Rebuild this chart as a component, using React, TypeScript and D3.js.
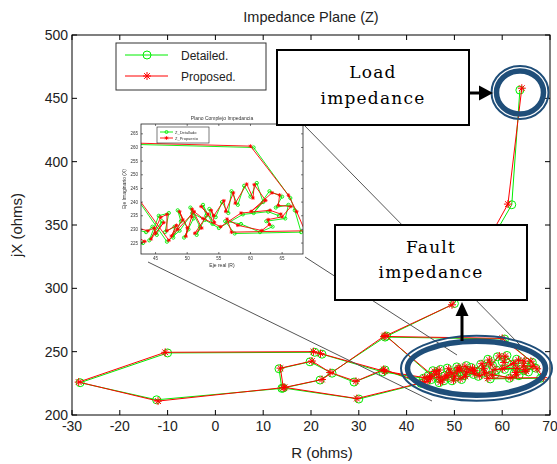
import * as React from 'react';
import * as d3 from 'd3';

// axis ticks
const xTicks = [-30, -20, -10, 0, 10, 20, 30, 40, 50, 60, 70];
const yTicks = [200, 250, 300, 350, 400, 450, 500];
const insetXTicks = [45, 50, 55, 60, 65];
const insetYTicks = [225, 230, 235, 240, 245, 250, 255, 260, 265];

const legendLabels = ['Detailed.', 'Proposed.'];
const insetLegendLabels = ['Z_Detallado', 'Z_Propuesto'];

// R, jX (ohms)
const detailed: [number, number][] = [
  [63.7, 456.5], [62.0, 366.0], [50.0, 288.0], [35.5, 261.5], [60.5, 260.0],
  [66.3, 241.5], [67.0, 237.0], [68.0, 229.0], [57.5, 228.5], [56.0, 233.0],
  [58.5, 232.0], [61.5, 229.0], [63.5, 231.0], [62.5, 233.0], [65.5, 234.0],
  [66.0, 239.0], [64.0, 238.0], [65.0, 242.0], [63.0, 244.0], [60.5, 236.0],
  [62.0, 240.0], [61.0, 247.0], [60.0, 242.0], [59.0, 246.0], [58.0, 239.0],
  [57.0, 244.0], [56.5, 236.0], [55.5, 240.0], [54.5, 234.5], [53.5, 237.5],
  [54.0, 232.0], [52.5, 239.0], [53.0, 235.0], [51.5, 228.0], [52.0, 231.0],
  [50.5, 238.0], [51.0, 234.0], [49.5, 227.0], [50.2, 230.0], [48.5, 237.0],
  [49.0, 233.0], [47.8, 227.0], [48.0, 231.0], [46.5, 229.0], [47.1, 236.0],
  [45.5, 235.0], [44.0, 226.0], [46.0, 233.0], [45.2, 228.0], [44.5, 231.0],
  [43.5, 229.0], [35.0, 234.0], [22.3, 248.0], [20.8, 249.5], [-10.0, 249.0],
  [-28.3, 225.5], [-12.3, 212.0], [13.9, 221.0], [13.3, 236.5], [19.8, 242.0],
  [24.4, 233.0], [29.0, 226.0], [35.5, 235.5], [43.0, 225.0], [30.0, 212.6],
  [14.2, 221.3], [21.9, 227.6], [35.8, 262.3], [46.8, 225.5], [48.8, 229.5],
  [50.8, 236.0], [52.8, 233.5], [55.0, 230.5], [58.8, 235.5], [62.8, 236.5],
  [64.5, 235.0],
];

const proposed: [number, number][] = [
  [64.1, 458.0], [61.2, 366.5], [49.5, 287.0], [35.3, 262.0], [60.0, 260.5],
  [66.0, 242.5], [67.3, 236.5], [68.6, 229.5], [57.0, 229.0], [56.3, 233.8],
  [58.0, 231.5], [61.8, 229.6], [63.0, 231.8], [62.8, 233.6], [65.0, 234.6],
  [66.4, 238.4], [64.4, 238.8], [64.6, 242.6], [63.4, 243.4], [60.1, 236.6],
  [62.4, 240.6], [60.6, 246.4], [60.4, 241.5], [59.4, 246.6], [57.6, 239.6],
  [57.3, 243.4], [56.1, 236.6], [55.8, 240.5], [54.2, 235.0], [53.8, 237.0],
  [54.3, 232.6], [52.2, 238.4], [53.3, 235.6], [51.2, 228.6], [52.3, 230.5],
  [50.8, 237.4], [50.7, 234.6], [49.8, 227.5], [50.0, 230.6], [48.8, 236.5],
  [49.3, 233.5], [47.5, 227.6], [48.3, 231.5], [46.8, 229.5], [46.8, 235.5],
  [45.8, 234.4], [44.3, 226.5], [46.3, 232.5], [45.0, 228.6], [44.8, 230.5],
  [43.8, 229.5], [35.4, 234.5], [22.0, 248.5], [20.5, 250.0], [-10.5, 249.5],
  [-28.6, 226.0], [-12.0, 211.0], [14.2, 221.6], [13.6, 237.0], [20.2, 242.6],
  [24.0, 233.6], [29.4, 226.6], [35.2, 236.0], [43.3, 225.6], [29.6, 213.0],
  [14.5, 221.8], [22.3, 228.0], [35.5, 262.8], [47.1, 226.0], [48.5, 230.0],
  [51.1, 236.5], [52.5, 234.0], [55.3, 231.0], [58.5, 236.0], [63.1, 237.0],
  [64.8, 235.6],
];

const GREEN = '#00ee00';
const RED = '#ff0000';
const BLUE = '#1f4e79';
const SANS = '"Liberation Sans", Arial, sans-serif';
const SERIF = '"DejaVu Serif", serif';

function starPath(s: number) {
  const k = s * 0.72;
  return `M${-s},0H${s}M0,${-s}V${s}M${-k},${-k}L${k},${k}M${-k},${k}L${k},${-k}`;
}

function Series({ data, x, y, color, marker, size, width }: any) {
  const line = d3.line<[number, number]>().x(d => x(d[0])).y(d => y(d[1]));
  return (
    <g>
      <path d={line(data) || ''} fill="none" stroke={color} strokeWidth={width} />
      {data.map((d: [number, number], i: number) =>
        marker === 'o' ? (
          <circle key={i} cx={x(d[0])} cy={y(d[1])} r={size} fill="none" stroke={color} strokeWidth={width} />
        ) : (
          <path key={i} d={starPath(size)} transform={`translate(${x(d[0])},${y(d[1])})`}
            fill="none" stroke={color} strokeWidth={width} />
        )
      )}
    </g>
  );
}

function Inset() {
  const left = 141, right = 303, top = 124, bottom = 254;
  const ix = d3.scaleLinear().domain([42.7, 68.3]).range([left, right]);
  const iy = d3.scaleLinear().domain([221, 268.6]).range([bottom, top]);
  return (
    <g filter="url(#soft)">
      <rect x={116} y={110} width={194} height={162} fill="#fff" />
      <defs>
        <clipPath id="insetClip">
          <rect x={left} y={top} width={right - left} height={bottom - top} />
        </clipPath>
      </defs>
      <g clipPath="url(#insetClip)">
        <Series data={detailed} x={ix} y={iy} color={GREEN} marker="o" size={1.6} width={0.9} />
        <Series data={proposed} x={ix} y={iy} color={RED} marker="*" size={1.8} width={0.9} />
      </g>
      <rect x={left} y={top} width={right - left} height={bottom - top} fill="none" stroke="#222" strokeWidth={0.8} />
      {insetXTicks.map(t => (
        <g key={t}>
          <line x1={ix(t)} x2={ix(t)} y1={bottom} y2={bottom - 2} stroke="#222" strokeWidth={0.6} />
          <line x1={ix(t)} x2={ix(t)} y1={top} y2={top + 2} stroke="#222" strokeWidth={0.6} />
          <text x={ix(t)} y={bottom + 6} fontSize={4.5} textAnchor="middle" fill="#333" fontFamily={SANS}>{t}</text>
        </g>
      ))}
      {insetYTicks.map(t => (
        <g key={t}>
          <line x1={left} x2={left + 2} y1={iy(t)} y2={iy(t)} stroke="#222" strokeWidth={0.6} />
          <line x1={right} x2={right - 2} y1={iy(t)} y2={iy(t)} stroke="#222" strokeWidth={0.6} />
          <text x={left - 3} y={iy(t) + 1.5} fontSize={4.5} textAnchor="end" fill="#333" fontFamily={SANS}>{t}</text>
        </g>
      ))}
      <text x={222} y={120} fontSize={5} textAnchor="middle" fill="#333" fontFamily={SANS}>Plano Complejo Impedancia</text>
      <text x={222} y={267} fontSize={5} textAnchor="middle" fill="#333" fontFamily={SANS}>Eje real (R)</text>
      <text transform="translate(126,189) rotate(-90)" fontSize={5} textAnchor="middle" fill="#333" fontFamily={SANS}>Eje Imaginario (X)</text>
      <rect x={157} y={127} width={52} height={16} fill="#fff" stroke="#222" strokeWidth={0.6} />
      {insetLegendLabels.map((l, i) => (
        <g key={l}>
          <line x1={160} x2={173} y1={132 + i * 6} y2={132 + i * 6} stroke={i ? RED : GREEN} strokeWidth={0.9} />
          {i ? (
            <path d={starPath(1.8)} transform={`translate(166.5,${132 + i * 6})`} stroke={RED} strokeWidth={0.9} />
          ) : (
            <circle cx={166.5} cy={132} r={1.5} fill="none" stroke={GREEN} strokeWidth={0.9} />
          )}
          <text x={175} y={133.5 + i * 6} fontSize={4} fill="#333" fontFamily={SANS}>{l}</text>
        </g>
      ))}
    </g>
  );
}

export default function App() {
  const width = 557, height = 464;
  const x = d3.scaleLinear().domain([-30, 70]).range([72, 550]);
  const y = d3.scaleLinear().domain([200, 500]).range([415, 35]);
  const [x0, x1] = x.range();
  const [y0, y1] = y.range();

  return (
    <svg width={width} height={height} style={{ position: 'absolute', left: 0, top: 0, background: '#fff' }}>
      <defs>
        <filter id="soft">
          <feGaussianBlur stdDeviation={0.35} />
        </filter>
      </defs>
      <rect width={width} height={height} fill="#fff" />

      <Series data={detailed} x={x} y={y} color={GREEN} marker="o" size={4} width={1} />
      <Series data={proposed} x={x} y={y} color={RED} marker="*" size={4} width={1} />

      <rect x={x0} y={y1} width={x1 - x0} height={y0 - y1} fill="none" stroke="#000" strokeWidth={1} />
      {xTicks.map(t => (
        <g key={t}>
          <line x1={x(t)} x2={x(t)} y1={y0} y2={y0 - 5} stroke="#000" />
          <line x1={x(t)} x2={x(t)} y1={y1} y2={y1 + 5} stroke="#000" />
          <text x={x(t)} y={y0 + 16} fontSize={14} textAnchor="middle" fontFamily={SANS} fill="#222">{t}</text>
        </g>
      ))}
      {yTicks.map(t => (
        <g key={t}>
          <line x1={x0} x2={x0 + 5} y1={y(t)} y2={y(t)} stroke="#000" />
          <line x1={x1} x2={x1 - 5} y1={y(t)} y2={y(t)} stroke="#000" />
          <text x={x0 - 4} y={y(t) + 5} fontSize={14} textAnchor="end" fontFamily={SANS} fill="#222">{t}</text>
        </g>
      ))}
      <text x={311} y={22} fontSize={14.5} textAnchor="middle" fontFamily={SANS} fill="#222">Impedance Plane (Z)</text>
      <text x={322} y={458} fontSize={15} textAnchor="middle" fontFamily={SANS} fill="#222">R (ohms)</text>
      <text transform="translate(22,225) rotate(-90)" fontSize={15} textAnchor="middle" fontFamily={SANS} fill="#222">jX (ohms)</text>

      <Inset />

      {/* zoom guide lines */}
      <line x1={303} y1={124} x2={520} y2={345} stroke="#555" strokeWidth={1} />
      <line x1={305} y1={257} x2={457} y2={355} stroke="#555" strokeWidth={1} />
      <line x1={148} y1={262} x2={432} y2={401} stroke="#555" strokeWidth={1} />

      {/* legend */}
      <rect x={116} y={43} width={150} height={47} fill="#fff" stroke="#333" strokeWidth={1} />
      {legendLabels.map((l, i) => {
        const ly = 55 + i * 21;
        return (
          <g key={l}>
            <line x1={125} x2={168} y1={ly} y2={ly} stroke={i ? RED : GREEN} strokeWidth={1} />
            {i ? (
              <path d={starPath(4)} transform={`translate(147,${ly})`} stroke={RED} strokeWidth={1} />
            ) : (
              <circle cx={147} cy={ly} r={4} fill="none" stroke={GREEN} strokeWidth={1} />
            )}
            <text x={181} y={ly + 5} fontSize={12} fontFamily={SANS} fill="#222">{l}</text>
          </g>
        );
      })}

      {/* highlight ellipses */}
      <ellipse cx={520} cy={92.5} rx={28.5} ry={26.5} fill="none" stroke={BLUE} strokeWidth={2} />
      <ellipse cx={520} cy={92.5} rx={23.5} ry={21.5} fill="none" stroke={BLUE} strokeWidth={5.5} />
      <ellipse cx={476.5} cy={368.3} rx={75.5} ry={32.5} fill="none" stroke={BLUE} strokeWidth={2} />
      <ellipse cx={476.5} cy={368.3} rx={69} ry={27} fill="none" stroke={BLUE} strokeWidth={5.5} />

      {/* arrows */}
      <line x1={469} y1={93} x2={480} y2={93} stroke="#000" strokeWidth={3} />
      <path d="M479,85.5L493,93L479,100.5Z" fill="#000" />
      <line x1={462} y1={341} x2={462} y2={315} stroke="#000" strokeWidth={3} />
      <path d="M455.5,316L462,302L468.5,316Z" fill="#000" />

      {/* annotation boxes */}
      <rect x={277} y={50} width={192} height={75} fill="#fff" stroke="#000" strokeWidth={2} />
      <text x={373} y={78} fontSize={17} textAnchor="middle" fontFamily={SERIF} letterSpacing={1.2}>Load</text>
      <text x={373} y={104} fontSize={17} textAnchor="middle" fontFamily={SERIF} letterSpacing={1.2}>impedance</text>
      <rect x={335} y={225} width={192} height={75} fill="#fff" stroke="#000" strokeWidth={2} />
      <text x={431} y={253} fontSize={17} textAnchor="middle" fontFamily={SERIF} letterSpacing={1.2}>Fault</text>
      <text x={431} y={278} fontSize={17} textAnchor="middle" fontFamily={SERIF} letterSpacing={1.2}>impedance</text>
    </svg>
  );
}
